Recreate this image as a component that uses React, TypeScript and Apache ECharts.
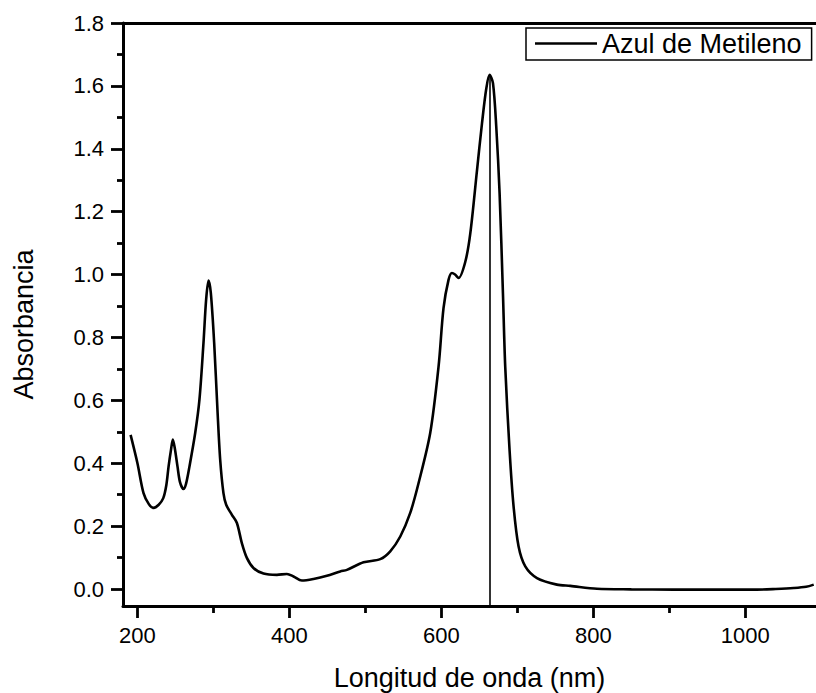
import React, { useEffect, useRef } from "react";
import * as echarts from "echarts";

const seriesName = "Azul de Metileno";
const wavelengths = [
  191, 200, 208, 215, 221, 228, 234, 238, 241, 244, 246.6, 249, 252.7, 256, 260.6, 264, 268.5, 276,
  281.6, 286.9, 290.4, 293.5, 296.6, 301, 305.3, 308.9, 313.2, 316.8, 324.3, 330.9, 337.4, 344,
  352.7, 365.9, 383.5, 396.7, 405.4, 416.4, 431.7, 449.3, 466.9, 475.7, 497.5, 519.5, 532.7, 545.9,
  559, 570, 585.3, 596.3, 602.8, 609.4, 613.9, 618, 622.6, 631.4, 638, 646.8, 653.4, 659, 663.4,
  667.9, 672.2, 676.6, 681, 684, 689.7, 695, 701.6, 710.4, 725.8, 752, 769.6, 804.8, 850, 905.6,
  960, 1015, 1040, 1063.6, 1080, 1090,
];
const absorbance = [
  0.49, 0.4, 0.305, 0.27, 0.258, 0.268, 0.289, 0.33, 0.39, 0.44, 0.475, 0.45, 0.39, 0.34, 0.318,
  0.335, 0.39, 0.496, 0.602, 0.782, 0.92, 0.981, 0.941, 0.782, 0.57, 0.411, 0.305, 0.268, 0.236,
  0.21, 0.146, 0.099, 0.067, 0.049, 0.045, 0.048, 0.04, 0.027, 0.032, 0.042, 0.056, 0.061, 0.085,
  0.095, 0.12, 0.167, 0.242, 0.337, 0.496, 0.708, 0.893, 0.983, 1.005, 1.0, 0.989, 1.04, 1.13,
  1.33, 1.48, 1.59, 1.635, 1.609, 1.471, 1.259, 0.941, 0.708, 0.443, 0.263, 0.135, 0.072,
  0.035, 0.014, 0.01, 0.001, -0.001, -0.002, -0.002, -0.002, 0, 0.003, 0.007, 0.014,
];
const peakWavelength = 664;
const peakAbsorbance = 1.635;

const xMajorTicks = [200, 400, 600, 800, 1000];
const xMinorTicks = [300, 500, 700, 900];
const yMajorTicks = [0, 0.2, 0.4, 0.6, 0.8, 1.0, 1.2, 1.4, 1.6, 1.8];
const yMinorTicks = [0.1, 0.3, 0.5, 0.7, 0.9, 1.1, 1.3, 1.5, 1.7];

const X_MIN = 181;
const X_MAX = 1093;
const Y_MIN = -0.054;
const Y_MAX = 1.8;

const FONT = "'Liberation Sans', Arial, Helvetica, sans-serif";

export default function App() {
  const ref = useRef<HTMLDivElement>(null);
  useEffect(() => {
    if (!ref.current) return;
    const chart = echarts.init(ref.current, null, { renderer: "svg" });
    const axisLine = { show: true, onZero: false, lineStyle: { color: "#000", width: 3 } };
    const tickStyle = { color: "#000", width: 2.8 };
    const baseX = { type: "value", min: X_MIN, max: X_MAX, splitLine: { show: false } };
    const baseY = { type: "value", min: Y_MIN, max: Y_MAX, splitLine: { show: false } };
    chart.setOption({
      animation: false,
      backgroundColor: "#fff",
      textStyle: { fontFamily: FONT },
      grid: {
        left: 123,
        top: 23,
        width: 693,
        height: 583,
        containLabel: false,
        outerBoundsMode: "none",
      },
      legend: {
        data: [{ name: seriesName, icon: "rect" }],
        left: 526,
        top: 28,
        padding: [2, 10, 3, 9],
        itemWidth: 62,
        itemHeight: 2.5,
        itemGap: 6,
        borderColor: "#000",
        borderWidth: 1.5,
        borderRadius: 0,
        itemStyle: { color: "#000", borderWidth: 0 },
        textStyle: { fontSize: 27, color: "#000", fontFamily: FONT },
      },
      xAxis: [
        {
          ...baseX,
          position: "bottom",
          axisLine,
          axisTick: { show: true, inside: false, length: 12, customValues: xMajorTicks, lineStyle: tickStyle },
          axisLabel: {
            show: true,
            customValues: xMajorTicks,
            margin: 18,
            fontSize: 22,
            color: "#000",
            fontFamily: FONT,
            formatter: (v: number) => String(v),
          },
          name: "Longitud de onda (nm)",
          nameLocation: "middle",
          nameGap: 58,
          nameTextStyle: { fontSize: 27, color: "#000", fontFamily: FONT },
        },
        {
          ...baseX,
          position: "bottom",
          axisLine: { show: false, onZero: false },
          axisTick: { show: true, inside: false, length: 7, customValues: xMinorTicks, lineStyle: tickStyle },
          axisLabel: { show: false },
        },
        {
          ...baseX,
          position: "top",
          axisLine,
          axisTick: { show: false },
          axisLabel: { show: false },
        },
      ],
      yAxis: [
        {
          ...baseY,
          position: "left",
          axisLine,
          axisTick: { show: true, inside: false, length: 12, customValues: yMajorTicks, lineStyle: tickStyle },
          axisLabel: {
            show: true,
            customValues: yMajorTicks,
            margin: 19,
            fontSize: 22,
            color: "#000",
            fontFamily: FONT,
            formatter: (v: number) => v.toFixed(1),
          },
          name: "Absorbancia",
          nameLocation: "middle",
          nameGap: 86,
          nameTextStyle: { fontSize: 27, color: "#000", fontFamily: FONT, padding: [0, 20, 0, 0] },
        },
        {
          ...baseY,
          position: "left",
          axisLine: { show: false, onZero: false },
          axisTick: { show: true, inside: false, length: 6, customValues: yMinorTicks, lineStyle: tickStyle },
          axisLabel: { show: false },
        },
      ],
      series: [
        {
          name: seriesName,
          type: "line",
          xAxisIndex: 0,
          yAxisIndex: 0,
          data: wavelengths.map((w, i) => [w, absorbance[i]]),
          symbol: "none",
          showSymbol: false,
          smooth: 0.3,
          lineStyle: { color: "#000", width: 2.6 },
          itemStyle: { color: "#000" },
          markLine: {
            silent: true,
            symbol: "none",
            label: { show: false },
            lineStyle: { color: "#000", width: 1.6, type: "solid" },
            data: [
              [
                { coord: [peakWavelength, Y_MIN] },
                { coord: [peakWavelength, peakAbsorbance] },
              ],
            ],
          },
        },
      ],
    });
    return () => chart.dispose();
  }, []);
  return (
    <div
      ref={ref}
      style={{ position: "absolute", left: 0, top: 0, width: 816, height: 693, background: "#fff" }}
    />
  );
}
